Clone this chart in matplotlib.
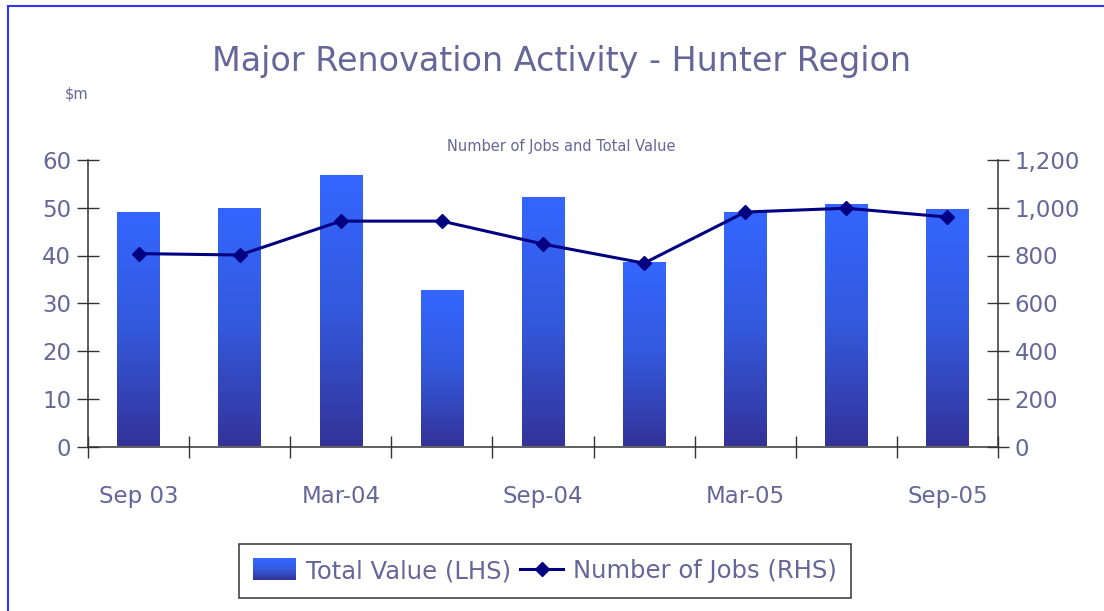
import numpy as np
import matplotlib
matplotlib.use('Agg')
import matplotlib.pyplot as plt
from matplotlib.colors import LinearSegmentedColormap
from matplotlib.patches import Rectangle, Patch
from matplotlib.lines import Line2D
from matplotlib.legend_handler import HandlerBase

quarters = ['Sep 03', 'Dec 03', 'Mar-04', 'Jun 04', 'Sep-04', 'Dec 04', 'Mar-05', 'Jun 05', 'Sep-05']
tick_labels = ['Sep 03', 'Mar-04', 'Sep-04', 'Mar-05', 'Sep-05']
total_value = [48.8, 49.8, 56.7, 32.6, 52.1, 38.5, 48.8, 50.6, 49.6]
num_jobs = [808, 802, 944, 944, 848, 768, 982, 998, 961]

TEXT = '#666699'
grad = LinearSegmentedColormap.from_list(
    'bar', [(0, '#333399'), (0.5, '#3459DC'), (1, '#3366FF')])


class GradientHandler(HandlerBase):
    def create_artists(self, legend, orig_handle, xdescent, ydescent,
                       width, height, fontsize, trans):
        n = 24
        arts = []
        h = height * 1.25
        y0 = -ydescent - (h - height) / 2
        for i in range(n):
            r = Rectangle((-xdescent, y0 + h * i / n), width, h / n + 0.3,
                          facecolor=grad(i / (n - 1)), edgecolor='none', transform=trans)
            arts.append(r)
        return arts


plt.rcParams['font.family'] = 'DejaVu Sans'
fig = plt.figure(figsize=(11.04, 6.11), dpi=100)

# blue frame around the chart
fig.patches.append(Rectangle((8 / 1104, -0.05), 1.2, 1 - 6 / 611 + 0.05, transform=fig.transFigure,
                             fill=False, edgecolor='#3333FF', linewidth=1.5))

ax = fig.add_axes([88 / 1104, 1 - 446.5 / 611, (998 - 88) / 1104, (446.5 - 160) / 611])
x = np.arange(len(quarters))
bw = 0.42
bars = ax.bar(x, total_value, width=bw, facecolor='none', edgecolor='none')
g = np.linspace(0, 1, 256).reshape(-1, 1)
for b in bars:
    ax.imshow(g, extent=[b.get_x(), b.get_x() + b.get_width(), 0, b.get_height()],
              origin='lower', aspect='auto', cmap=grad, zorder=1)
ax.set_xlim(-0.5, len(quarters) - 0.5)
ax.set_ylim(0, 60)
ax.set_yticks(np.arange(0, 61, 10))

ax2 = ax.twinx()
ax2.plot(x, num_jobs, color='#000080', lw=2.2, marker='D', markersize=7.5)
ax2.set_ylim(0, 1200)
ax2.set_yticks(np.arange(0, 1201, 200))
ax2.set_yticklabels([f'{v:,}' for v in range(0, 1201, 200)])

for a in (ax, ax2):
    a.spines['top'].set_visible(False)
    for s in a.spines.values():
        s.set_color('#333333')
        s.set_linewidth(1.1)
    a.tick_params(axis='y', direction='inout', length=16, width=1, colors='#333333',
                  labelcolor=TEXT, labelsize=16.5, pad=4)
ax.spines['right'].set_visible(False)
ax2.spines['left'].set_visible(False)
ax2.spines['bottom'].set_visible(False)

ax.set_xticks(x[::2])
ax.set_xticklabels(tick_labels)
ax.set_xticks(np.arange(-0.5, len(quarters), 1), minor=True)
ax.tick_params(axis='x', which='major', length=0, labelcolor=TEXT, labelsize=16.5, pad=28)
ax.tick_params(axis='x', which='minor', direction='inout', length=16, width=1, colors='#333333')

fig.text(562 / 1104, 1 - 62 / 611, 'Major Renovation Activity - Hunter Region', ha='center', va='center',
         fontsize=24, color=TEXT)
fig.text(77 / 1104, 1 - 94 / 611, '$m', ha='center', va='center', fontsize=10.5, color=TEXT)
fig.text(561 / 1104, 1 - 146 / 611, 'Number of Jobs and Total Value', ha='center', va='center',
         fontsize=10.5, color=TEXT)

handles = [Patch(), Line2D([], [], color='#000080', lw=2.2, marker='D', markersize=7.5)]
leg = fig.legend(handles, ['Total Value (LHS)', 'Number of Jobs (RHS)'], ncol=2,
                 loc='center', bbox_to_anchor=(545 / 1104, 1 - 571 / 611),
                 handler_map={Patch: GradientHandler()}, fontsize=17.5, labelcolor=TEXT,
                 fancybox=False, edgecolor='#333333', framealpha=1, handlelength=1.75,
                 handletextpad=0.4, columnspacing=0.4, borderpad=0.6, borderaxespad=0)
leg.get_frame().set_linewidth(1.1)

fig.savefig('out.png', dpi=100)
